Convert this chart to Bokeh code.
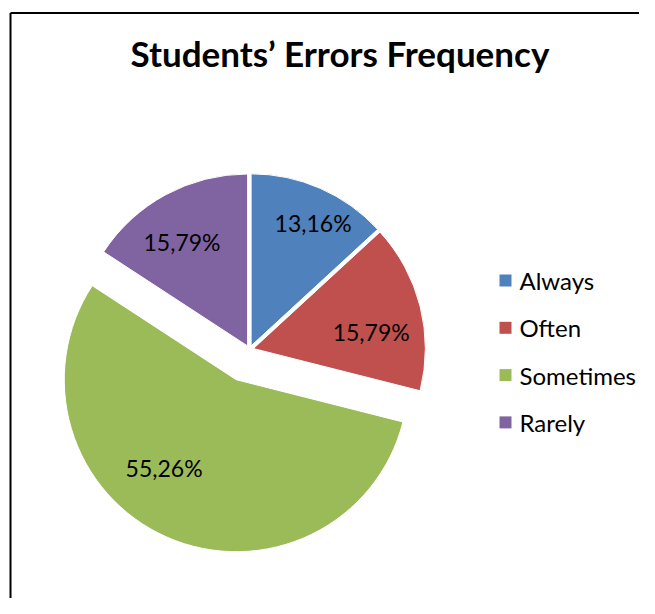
import numpy as np
from bokeh.plotting import figure
from bokeh.models import Range1d
from bokeh.core.properties import value
from bokeh.embed import file_html
from bokeh.resources import INLINE

# ---- data ----
title_text = "Students\u2019 Errors Frequency"
categories = ["Always", "Often", "Sometimes", "Rarely"]
percents = [13.16, 15.79, 55.26, 15.79]
label_texts = ["13,16%", "15,79%", "55,26%", "15,79%"]
colors = ["#4F81BD", "#C0504D", "#9BBB59", "#8064A2"]

# ---- styling (pixel units) ----
W, H = 639, 598
FONT = "Lato"
cx, cy, R = 249, 249, 172
explode = [4, 4, 33, 4]
label_dist = [138, 119, 114, 123]
label_nudge_deg = [-3, -6, -15.6, 3.8]

p = figure(width=W, height=H, output_backend="svg", toolbar_location=None,
           x_range=Range1d(0, W), y_range=Range1d(0, H), min_border=0)
p.axis.visible = False
p.grid.visible = False
p.outline_line_color = None
p.background_fill_color = "white"
p.border_fill_color = "white"

# frame (left and top edge visible, right/bottom cut off)
p.segment(x0=[10, 10], y0=[0, 585.5], x1=[10, W], y1=[585.5, 585.5],
          line_color="black", line_width=2)

vals = np.array(percents, dtype=float)
frac = vals / vals.sum()
cum = np.concatenate([[0], np.cumsum(frac)])
a_start = np.pi / 2 - 2 * np.pi * cum[:-1]   # clockwise from 12 o'clock
a_end = np.pi / 2 - 2 * np.pi * cum[1:]
mid = (a_start + a_end) / 2
ex = np.array(explode, dtype=float)
xs = cx + ex * np.cos(mid)
ys = cy + ex * np.sin(mid)

p.wedge(x=xs, y=ys, radius=R, start_angle=a_end, end_angle=a_start,
        fill_color=colors, line_color="white", line_width=1)

la = mid + np.deg2rad(label_nudge_deg)
lx = xs + np.array(label_dist) * np.cos(la)
ly = ys + np.array(label_dist) * np.sin(la)
p.text(x=lx, y=ly, text=label_texts, text_font=value(FONT),
       text_font_size="23px", text_align="center", text_baseline="middle",
       text_color="black")

# title
p.text(x=[339.5], y=[546], text=[title_text], text_font=value(FONT),
       text_font_style="bold", text_font_size="35px", text_align="center",
       text_baseline="middle", text_color="black")

# legend
lg_x, lg_y0, lg_dy = 505, 318, 47.3
idx = np.arange(len(categories))
p.scatter(x=[lg_x] * len(categories), y=lg_y0 - idx * lg_dy, marker="square",
          size=12, fill_color=colors, line_color=None)
p.text(x=[lg_x + 14] * len(categories), y=lg_y0 - idx * lg_dy, text=categories,
       text_font=value(FONT), text_font_size="24px", text_align="left",
       text_baseline="middle", text_color="black")

open("out.html", "w").write(file_html(p, INLINE))
